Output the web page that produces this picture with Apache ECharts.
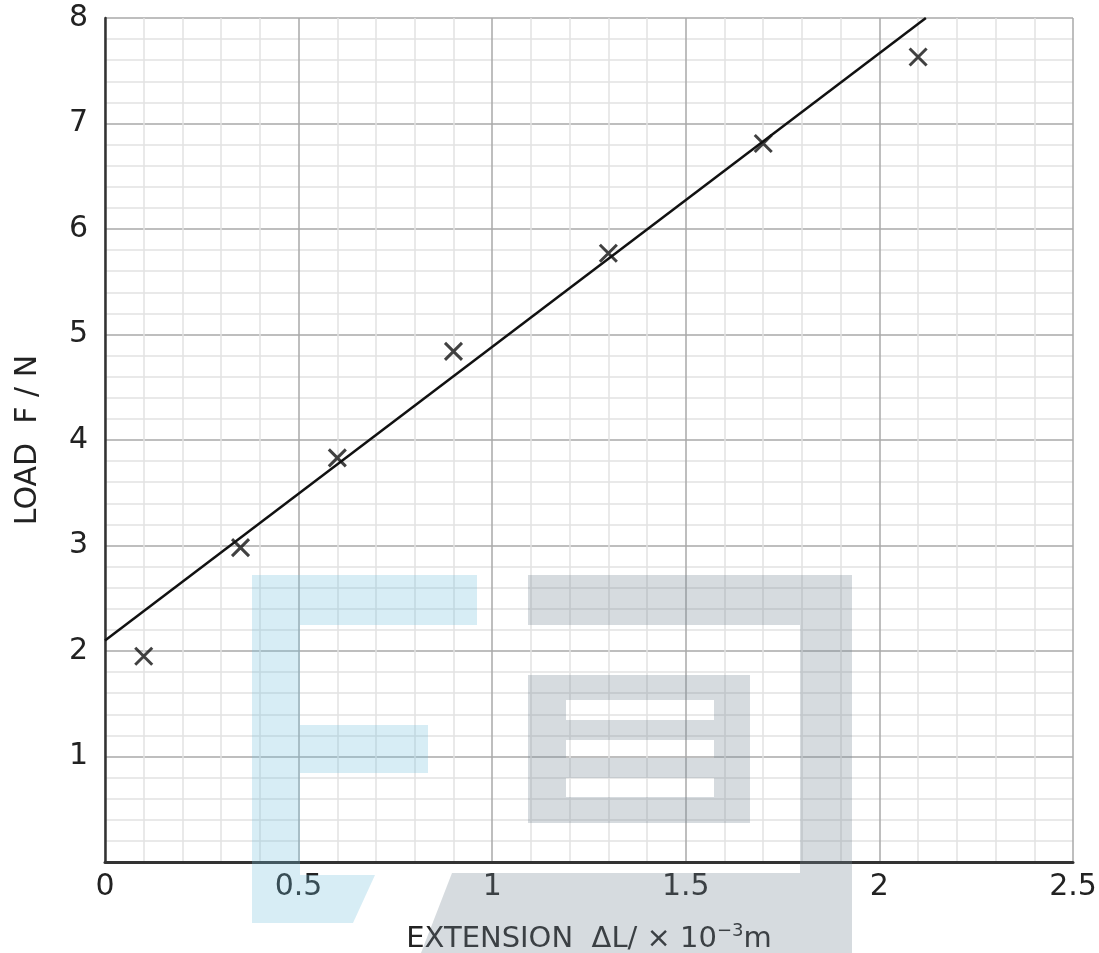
<!DOCTYPE html>
<html>
<head>
<meta charset="utf-8">
<script src="https://cdn.jsdelivr.net/npm/echarts@6/dist/echarts.min.js"></script>
<style>
  html, body { margin: 0; padding: 0; background: #fff; }
  #chart { width: 1099px; height: 953px; }
</style>
</head>
<body>
<div id="chart"></div>
<script>
// measured points (extension x10^-3 m, load N)
var extension = [0.1, 0.35, 0.6, 0.9, 1.3, 1.7, 2.1];
var load = [1.95, 2.98, 3.83, 4.84, 5.77, 6.81, 7.63];
// best fit line end points
var fitX = [0, 2.12];
var fitY = [2.1, 8];
var yTicks = [1, 2, 3, 4, 5, 6, 7, 8];

var chart = echarts.init(document.getElementById("chart"));

var pts = extension.map(function (x, i) { return [x, load[i]]; });
var fit = fitX.map(function (x, i) { return [x, fitY[i]]; });

// watermark shapes (decoration only)
var blue = "rgba(110,190,220,0.28)";
var grey = "rgba(120,135,150,0.30)";
function box(x, y, w, h) {
  return { type: "rect", shape: { x: x, y: y, width: w, height: h }, style: { fill: grey }, z: 100, silent: true };
}
var mark = [
  {
    type: "polygon", z: 100, silent: true,
    shape: { points: [[252,575],[477,575],[477,625],[300,625],[300,725],[428,725],[428,773],[300,773],[300,875],[375,875],[353,923],[252,923]] },
    style: { fill: blue }
  },
  {
    type: "polygon", z: 100, silent: true,
    shape: { points: [[528,575],[852,575],[852,953],[421,953],[452,873],[800,873],[800,625],[528,625]] },
    style: { fill: grey }
  },
  box(528, 675, 222, 25),
  box(528, 700, 38, 20), box(714, 700, 36, 20),
  box(528, 720, 222, 20),
  box(528, 740, 38, 18), box(714, 740, 36, 18),
  box(528, 758, 222, 20),
  box(528, 778, 38, 19), box(714, 778, 36, 19),
  box(528, 797, 222, 26)
];

var labelFont = "DejaVu Sans";

chart.setOption({
  backgroundColor: "#fff",
  animation: false,
  graphic: mark,
  grid: { left: 105, right: 26, top: 18, bottom: 91, containLabel: false, outerBoundsMode: "none" },
  xAxis: {
    type: "value",
    min: 0, max: 2.5, interval: 0.5,
    name: "EXTENSION  \u0394L/ \u00d7 10{sup|\u22123}m",
    nameLocation: "middle",
    nameGap: 60,
    nameTextStyle: {
      color: "#222", fontSize: 29, fontFamily: labelFont,
      rich: { sup: { fontSize: 18, color: "#222", fontFamily: labelFont, padding: [0, 0, 16, 0] } }
    },
    axisLine: { lineStyle: { color: "#333", width: 3 } },
    axisTick: { show: false },
    axisLabel: { color: "#222", fontSize: 30, fontFamily: labelFont, margin: 10 },
    splitLine: { lineStyle: { color: "#a8a8a8", width: 1.5 } },
    minorTick: { show: false, splitNumber: 5 },
    minorSplitLine: { show: true, lineStyle: { color: "#e2e2e2", width: 1.5 } }
  },
  yAxis: {
    type: "value",
    min: 0, max: 8, interval: 1,
    name: "LOAD  F / N",
    nameLocation: "middle",
    nameGap: 62,
    nameTextStyle: { color: "#222", fontSize: 30, fontFamily: labelFont },
    axisLine: { show: true, lineStyle: { color: "#333", width: 2.5 } },
    axisTick: { show: false },
    axisLabel: {
      color: "#222", fontSize: 30, fontFamily: labelFont, margin: 17,
      formatter: function (v) { return yTicks.indexOf(v) >= 0 ? String(v) : ""; }
    },
    splitLine: { lineStyle: { color: "#a8a8a8", width: 1.5 } },
    minorTick: { show: false, splitNumber: 5 },
    minorSplitLine: { show: true, lineStyle: { color: "#e2e2e2", width: 1.5 } }
  },
  series: [
    {
      name: "fit",
      type: "line",
      data: fit,
      showSymbol: false,
      lineStyle: { color: "#111", width: 2.5 },
      z: 3
    },
    {
      name: "data",
      type: "scatter",
      data: pts,
      symbol: "path://M0,0L10,10M10,0L0,10",
      symbolSize: 17,
      itemStyle: { color: "none", borderColor: "#111", borderWidth: 3 },
      z: 4
    }
  ]
});
</script>
</body>
</html>
